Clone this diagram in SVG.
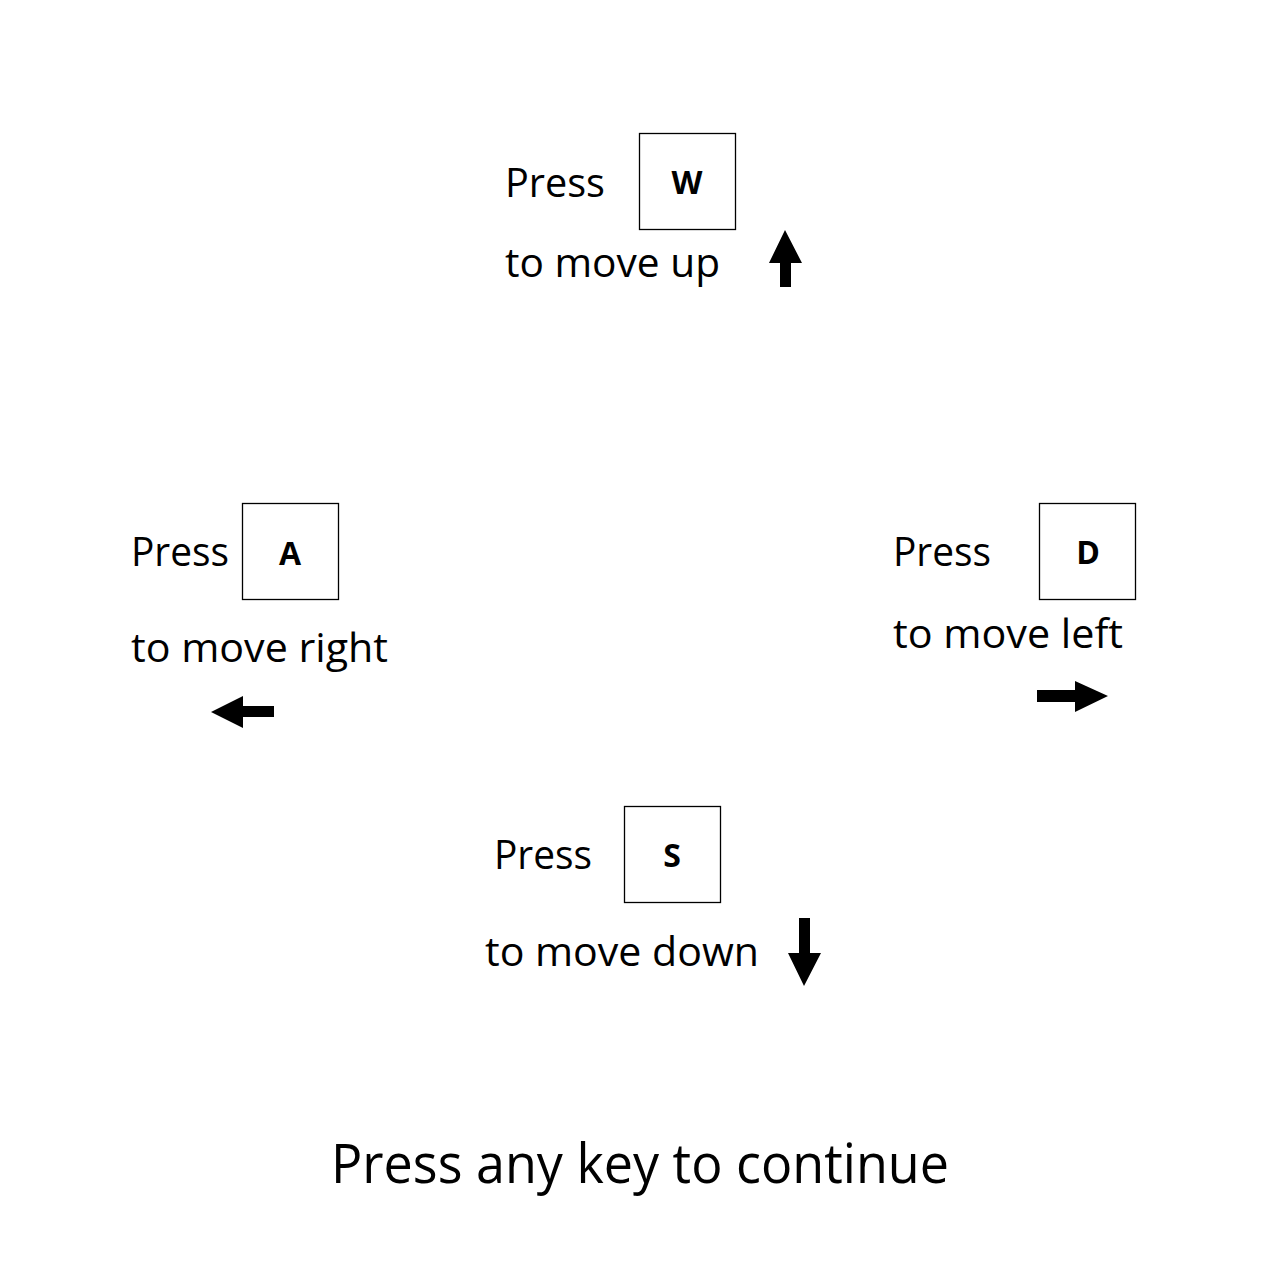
<svg xmlns="http://www.w3.org/2000/svg" width="1280" height="1280" viewBox="0 0 1280 1280">
<style>
.t{font-family:"Open Sans","Noto Sans","Liberation Sans",sans-serif;font-size:40px;fill:#000}
.big{font-size:55px}
.k{font-family:"Open Sans","Noto Sans","Liberation Sans",sans-serif;font-size:32px;font-weight:bold;fill:#000;text-anchor:middle}
.box{fill:#fff;stroke:#000;stroke-width:1.3}
.arr{fill:#000;stroke:none}
</style>
<rect width="1280" height="1280" fill="#fff"/>
<g id="key-w">
<rect class="box" x="639.5" y="133.5" width="96" height="96"/>
<text class="k" x="687" y="194">W</text>
<text class="t" x="505" y="197" textLength="100" lengthAdjust="spacingAndGlyphs">Press</text>
<text class="t" x="505" y="277" textLength="215" lengthAdjust="spacingAndGlyphs">to move up</text>
</g>
<g id="key-a">
<rect class="box" x="242.5" y="503.5" width="96" height="96"/>
<text class="k" x="290" y="565">A</text>
<text class="t" x="131" y="566" textLength="98" lengthAdjust="spacingAndGlyphs">Press</text>
<text class="t" x="131" y="662" textLength="257" lengthAdjust="spacingAndGlyphs">to move right</text>
</g>
<g id="key-d">
<rect class="box" x="1039.5" y="503.5" width="96" height="96"/>
<text class="k" x="1088" y="564">D</text>
<text class="t" x="893" y="566" textLength="98" lengthAdjust="spacingAndGlyphs">Press</text>
<text class="t" x="893" y="648" textLength="230" lengthAdjust="spacingAndGlyphs">to move left</text>
</g>
<g id="key-s">
<rect class="box" x="624.5" y="806.5" width="96" height="96"/>
<text class="k" x="672" y="867">S</text>
<text class="t" x="494" y="869" textLength="98" lengthAdjust="spacingAndGlyphs">Press</text>
<text class="t" x="485" y="966" textLength="274" lengthAdjust="spacingAndGlyphs">to move down</text>
</g>
<g id="footer">
<text class="t big" x="331" y="1183" textLength="618" lengthAdjust="spacingAndGlyphs">Press any key to continue</text>
</g>
<g id="connectors">
<polygon class="arr" points="785,230 802,263 791,263 791,287 780,287 780,263 769,263"/>
<polygon class="arr" points="211,712 243,696 243,706 274,706 274,717 243,717 243,728"/>
<polygon class="arr" points="1108,696 1075,681 1075,690 1037,690 1037,702 1075,702 1075,712"/>
<polygon class="arr" points="804,986 821,953 810,953 810,918 799,918 799,953 788,953"/>
</g>
</svg>
